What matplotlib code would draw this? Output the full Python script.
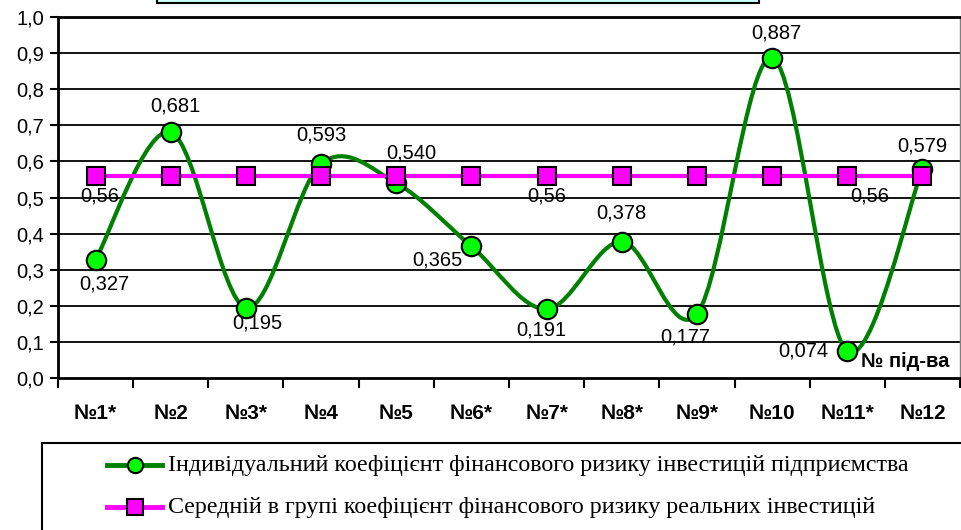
import numpy as np
import matplotlib.pyplot as plt
from matplotlib.path import Path
from matplotlib.patches import PathPatch, Rectangle
from matplotlib.lines import Line2D

categories = ["№1*", "№2", "№3*", "№4", "№5", "№6*", "№7*", "№8*", "№9*", "№10", "№11*", "№12"]
individual = [0.327, 0.681, 0.195, 0.593, 0.540, 0.365, 0.191, 0.378, 0.177, 0.887, 0.074, 0.579]
group_avg = [0.56] * 12
legend_labels = [
    "Індивідуальний коефіцієнт фінансового ризику інвестицій підприємства",
    "Середній в групі коефіцієнт фінансового ризику реальних інвестицій",
]
# label offsets in points (dx, dy)
ind_offsets = [(6, -17.5), (3.5, 19), (8, -11), (0, 21), (11, 21.5), (-24.5, -10),
               (-3.5, -15), (0, 20.5), (-8.5, -16.5), (3, 18), (-31.5, 0), (0, 16.5)]
avg_label_idx = {0: (3, -14.5), 6: (0, -14.5), 10: (16.5, -14.5)}

GREEN = "#008000"
LIME = "#00ff00"
PINK = "#ff00ff"

plt.rcParams["font.family"] = ["Liberation Sans", "DejaVu Sans"]

W, H = 962, 530
fig = plt.figure(figsize=(W / 100, H / 100), dpi=100)
ax = fig.add_axes([58 / W, 1 - 378 / H, (960 - 58) / W, 361 / H])

x = np.arange(len(categories))
ax.set_xlim(-0.5, len(categories) - 0.5)
ax.set_ylim(0, 1.0)

# horizontal grid
for v in np.arange(0.1, 1.01, 0.1):
    ax.axhline(v, color="black", lw=1.3, zorder=1)

# smoothed line (bezier through points, Excel style)
pts = np.column_stack([x, individual])
n = len(pts)
verts = [pts[0]]
codes = [Path.MOVETO]
for i in range(n - 1):
    p_prev = pts[max(i - 1, 0)]
    p_next = pts[min(i + 2, n - 1)]
    c1 = pts[i] + (pts[i + 1] - p_prev) / 6
    c2 = pts[i + 1] - (p_next - pts[i]) / 6
    verts += [c1, c2, pts[i + 1]]
    codes += [Path.CURVE4] * 3
ax.add_patch(PathPatch(Path(verts, codes), fill=False, edgecolor=GREEN, lw=3, zorder=3))
ax.plot(x, individual, ls="none", marker="o", ms=14, mfc=LIME, mec="black", mew=1.5, zorder=4)

ax.plot(x, group_avg, color=PINK, lw=3, marker="s", ms=13, mfc=PINK, mec="black",
        mew=1.5, zorder=5)

for i, v in enumerate(individual):
    dx, dy = ind_offsets[i]
    ax.annotate(f"{v:.3f}".replace(".", ","), (x[i], v), xytext=(dx, dy),
                textcoords="offset points", ha="center", va="center", fontsize=14.5, zorder=6)
for i, (dx, dy) in avg_label_idx.items():
    ax.annotate(f"{group_avg[i]:.2f}".replace(".", ","), (x[i], group_avg[i]), xytext=(dx, dy),
                textcoords="offset points", ha="center", va="center", fontsize=14.5, zorder=6)

ax.text(0.939, 0.047, "№ під-ва", transform=ax.transAxes, ha="center", va="center",
        fontsize=14.5, fontweight="bold", zorder=7)

# axes styling
ax.set_yticks(np.arange(0, 1.01, 0.1))
ax.set_yticklabels([f"{v:.1f}".replace(".", ",") for v in np.arange(0, 1.01, 0.1)], fontsize=14.5)
ax.set_xticks(x)
ax.set_xticklabels(categories, fontsize=15, fontweight="bold")
ax.set_xticks(np.arange(-0.5, len(categories)), minor=True)
ax.tick_params(axis="x", which="major", length=0, pad=19)
ax.tick_params(axis="x", which="minor", length=7, width=1.5, direction="out")
ax.tick_params(axis="y", length=6, width=1.5, direction="out", pad=4)
for s in ["left", "bottom", "top"]:
    ax.spines[s].set_linewidth(2)
    ax.spines[s].set_color("black")
ax.spines["right"].set_color("#808080")
ax.spines["right"].set_linewidth(1)

# title box at the top (empty)
fig.add_artist(Rectangle((157 / W, 1 - 3 / H), (759 - 157) / W, 0.05, transform=fig.transFigure,
                         facecolor="#ccffff", edgecolor="black", lw=1.5))

# legend box
fig.add_artist(Rectangle((42 / W, -0.05), 0.99, 0.05 + (530 - 443) / H, transform=fig.transFigure,
                         facecolor="white", edgecolor="black", lw=1.5))
legend_styles = [(GREEN, LIME, "o", 11), (PINK, PINK, "s", 11)]
for row, (label, (lc, mc, mk, ms)) in enumerate(zip(legend_labels, legend_styles)):
    yy = 1 - (465 + row * 42) / H
    fig.add_artist(Line2D([107 / W, 162 / W], [yy, yy], transform=fig.transFigure,
                          color=lc, lw=3.5))
    fig.add_artist(Line2D([135 / W], [yy], transform=fig.transFigure, ls="none",
                          marker=mk, ms=ms, mfc=mc, mec="black", mew=1.5))
    fig.text(168 / W, yy, label, ha="left", va="center", fontsize=17.3,
             family=["Liberation Serif", "DejaVu Serif"])

fig.savefig("out.png", dpi=100)
